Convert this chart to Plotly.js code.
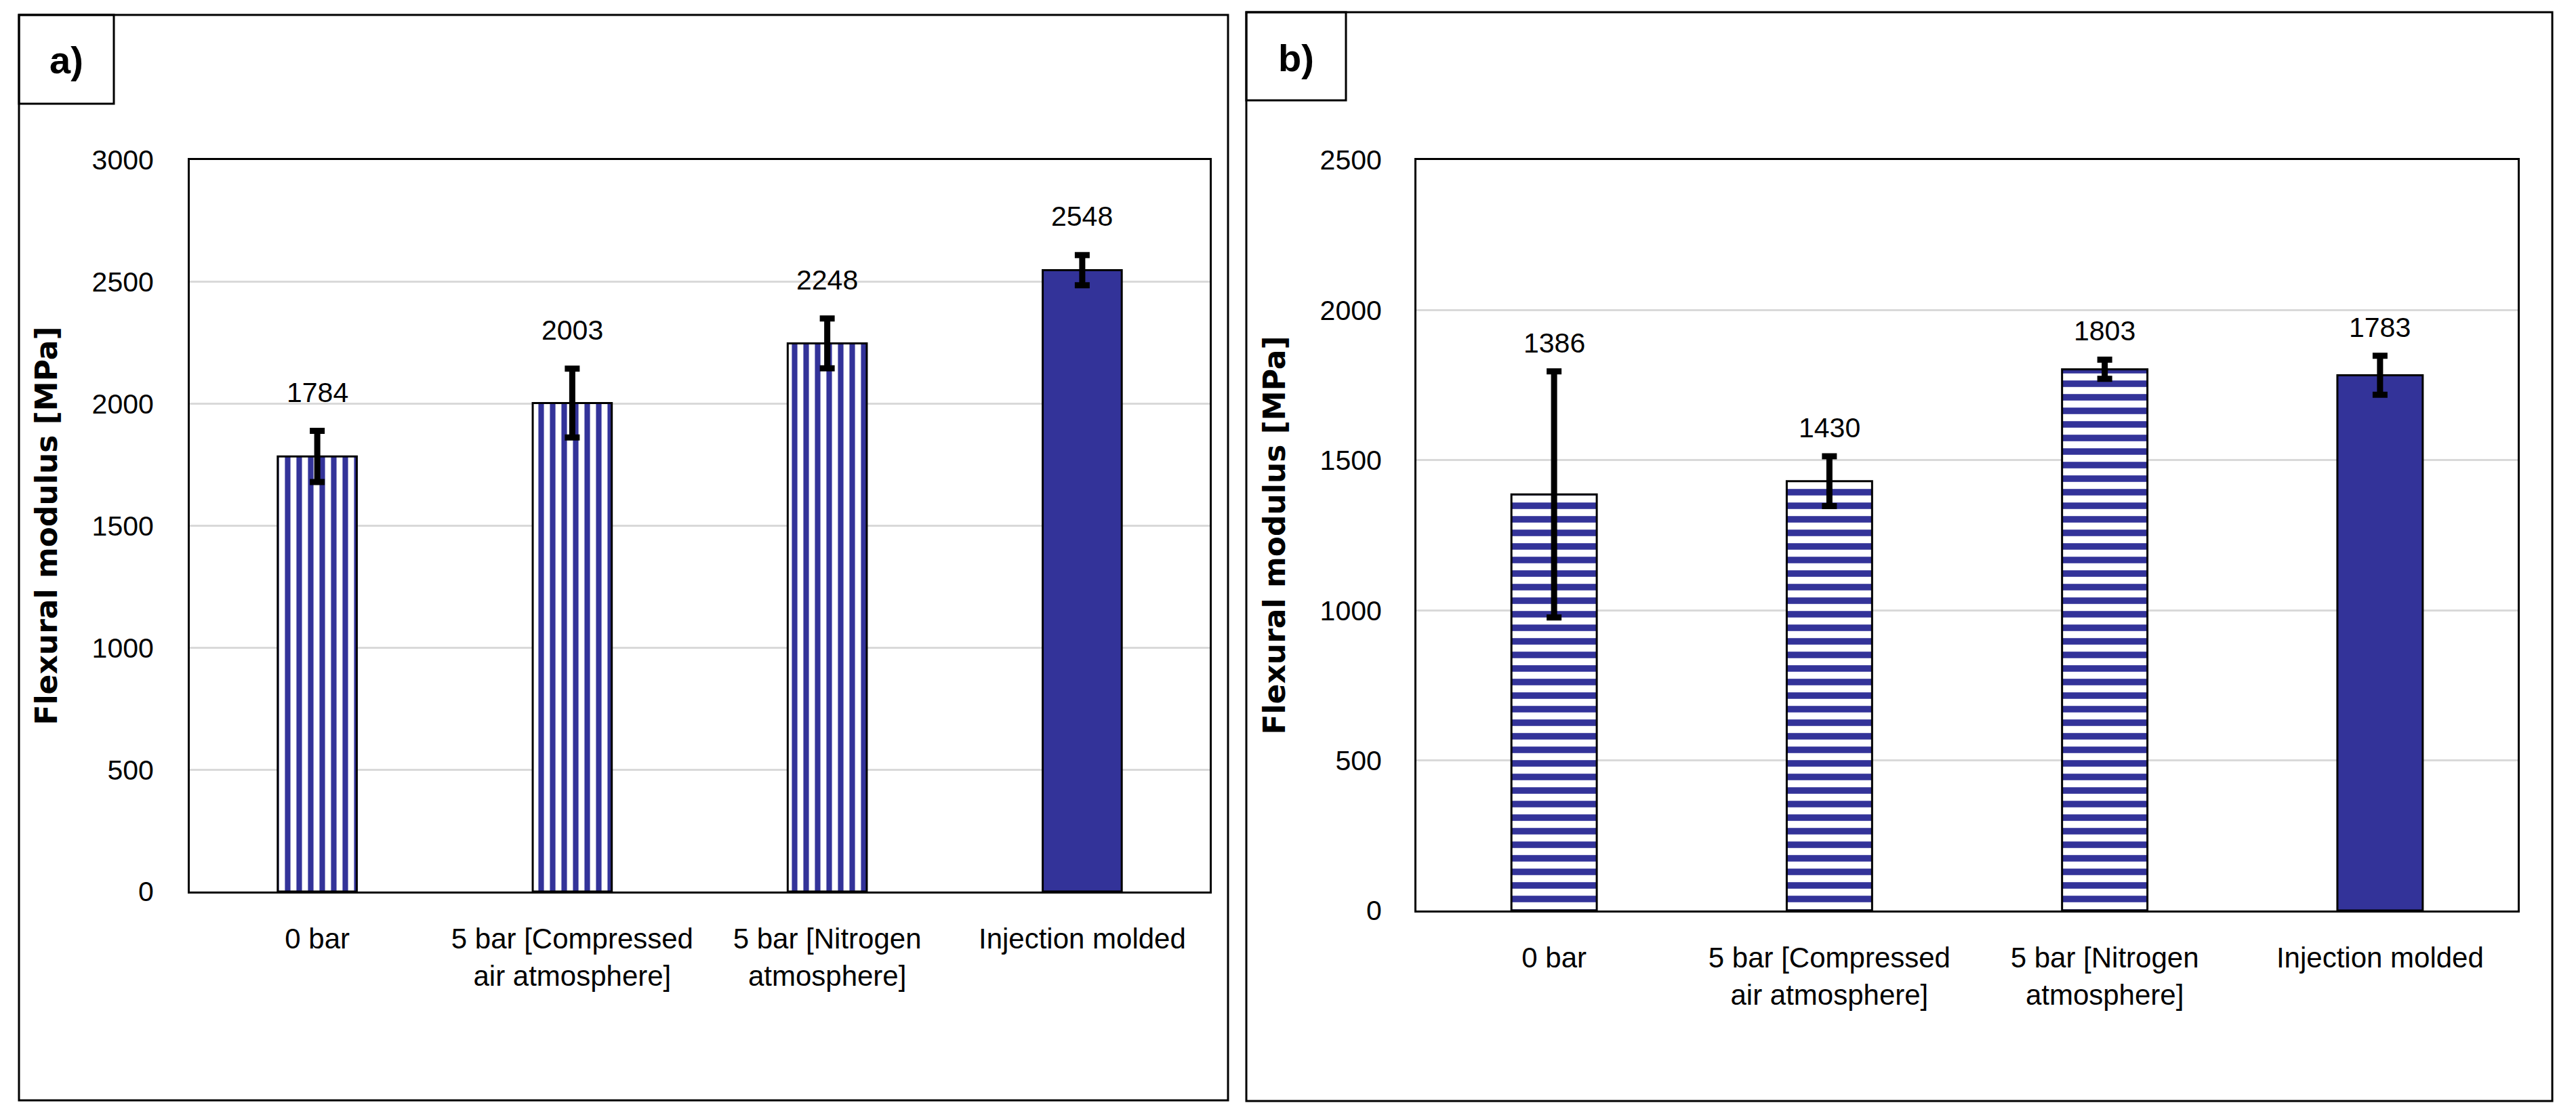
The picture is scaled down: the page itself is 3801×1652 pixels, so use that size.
<!DOCTYPE html>
<html>
<head>
<meta charset="utf-8">
<script src="https://cdn.plot.ly/plotly-3.0.1.min.js"></script>
<style>
  html, body { margin: 0; padding: 0; background: #ffffff; }
  #chart { width: 3801px; height: 1652px; }
</style>
</head>
<body>
<div id="chart"></div>
<script>
// ---- data ----
const categories = ['0 bar', '5 bar [Compressed<br>air atmosphere]', '5 bar [Nitrogen<br>atmosphere]', 'Injection molded'];
const modulusA = [1784, 2003, 2248, 2548];
const errorA = [105, 141, 102, 62];
const modulusB = [1386, 1430, 1803, 1783];
const errorB = [410, 83, 32, 65];
const ticksA = [0, 500, 1000, 1500, 2000, 2500, 3000];
const ticksB = [0, 500, 1000, 1500, 2000, 2500];
const panelLabels = ['a)', 'b)'];
const yTitle = 'Flexural modulus [MPa]';

// ---- styles ----
const W = 3801, H = 1652;
const navy = '#333399';
const txtFont = 'Liberation Sans, Arial, sans-serif';
const px = v => v / W;
const py = v => 1 - v / H;

function barTrace(vals, errs, shape, size, xa, ya) {
  return {
    type: 'bar',
    x: categories,
    y: vals,
    xaxis: xa, yaxis: ya,
    width: 0.31,
    marker: {
      color: navy,
      line: { color: '#000000', width: 3 },
      pattern: {
        shape: categories.map((c, i) => i < categories.length - 1 ? shape : ''),
        size: size, solidity: 0.48, fgcolor: navy, bgcolor: '#ffffff', fillmode: 'replace'
      }
    },
    error_y: { type: 'data', array: errs, visible: true, color: '#000000', thickness: 9, width: 11 },
    showlegend: false,
    hoverinfo: 'skip'
  };
}

const traces = [
  barTrace(modulusA, errorA, '|', 17, 'x', 'y'),
  barTrace(modulusB, errorB, '-', 20, 'x2', 'y2')
];

function xAxis(domain, anchor) {
  return {
    domain: domain, anchor: anchor, type: 'category',
    showline: true, linecolor: '#000000', linewidth: 3, mirror: true,
    ticks: '', showgrid: false, zeroline: false, tickangle: 0,
    tickfont: { family: txtFont, size: 42, color: '#000000' },
    ticklabelstandoff: 31
  };
}
function yAxis(domain, anchor, ticks, standoff) {
  return {
    domain: domain, anchor: anchor,
    range: [0, ticks[ticks.length - 1]],
    tickvals: ticks, ticktext: ticks.map(String),
    showline: true, linecolor: '#000000', linewidth: 3, mirror: true,
    ticks: '', showgrid: true, gridcolor: '#d9d9d9', gridwidth: 3, zeroline: false,
    tickfont: { family: txtFont, size: 41, color: '#000000' },
    ticklabelstandoff: standoff,
    title: { text: yTitle, font: { family: 'DejaVu Sans', size: 44, color: '#000000', weight: 'bold' }, standoff: 38 }
  };
}

const annotations = [];
function addValueLabels(vals, errs, xr, yr, shift) {
  vals.forEach((v, i) => {
    annotations.push({
      x: i, y: v + errs[i], xref: xr, yref: yr, text: String(v), showarrow: false,
      yanchor: 'middle', yshift: shift,
      font: { family: txtFont, size: 41, color: '#000000' }
    });
  });
}
addValueLabels(modulusA, errorA, 'x', 'y', 57);
addValueLabels(modulusB, errorB, 'x2', 'y2', 42);

// panel letters
annotations.push({ x: px(98), y: py(88), xref: 'paper', yref: 'paper', text: '<b>' + panelLabels[0] + '</b>', showarrow: false,
  xanchor: 'center', yanchor: 'middle', font: { family: txtFont, size: 56, color: '#000000' } });
annotations.push({ x: px(1912), y: py(86), xref: 'paper', yref: 'paper', text: '<b>' + panelLabels[1] + '</b>', showarrow: false,
  xanchor: 'center', yanchor: 'middle', font: { family: txtFont, size: 56, color: '#000000' } });

const frame = { color: '#000000', width: 3 };
const shapes = [
  { type: 'rect', xref: 'paper', yref: 'paper', x0: px(28), x1: px(1812), y0: py(1623), y1: py(22), line: frame },
  { type: 'rect', xref: 'paper', yref: 'paper', x0: px(28), x1: px(168), y0: py(153), y1: py(22), line: frame },
  { type: 'rect', xref: 'paper', yref: 'paper', x0: px(1839), x1: px(3766), y0: py(1624), y1: py(18), line: frame },
  { type: 'rect', xref: 'paper', yref: 'paper', x0: px(1839), x1: px(1986), y0: py(148), y1: py(18), line: frame }
];

const layout = {
  width: W, height: H,
  margin: { l: 0, r: 0, t: 0, b: 0, pad: 0 },
  paper_bgcolor: '#ffffff', plot_bgcolor: '#ffffff',
  showlegend: false,
  xaxis: xAxis([px(280), px(1785)], 'y'),
  yaxis: yAxis([py(1315), py(236)], 'x', ticksA, 42),
  xaxis2: xAxis([px(2090), px(3715)], 'y2'),
  yaxis2: yAxis([py(1343), py(236)], 'x2', ticksB, 40),
  annotations: annotations,
  shapes: shapes
};

Plotly.newPlot('chart', traces, layout, { staticPlot: true, displayModeBar: false });
</script>
</body>
</html>
